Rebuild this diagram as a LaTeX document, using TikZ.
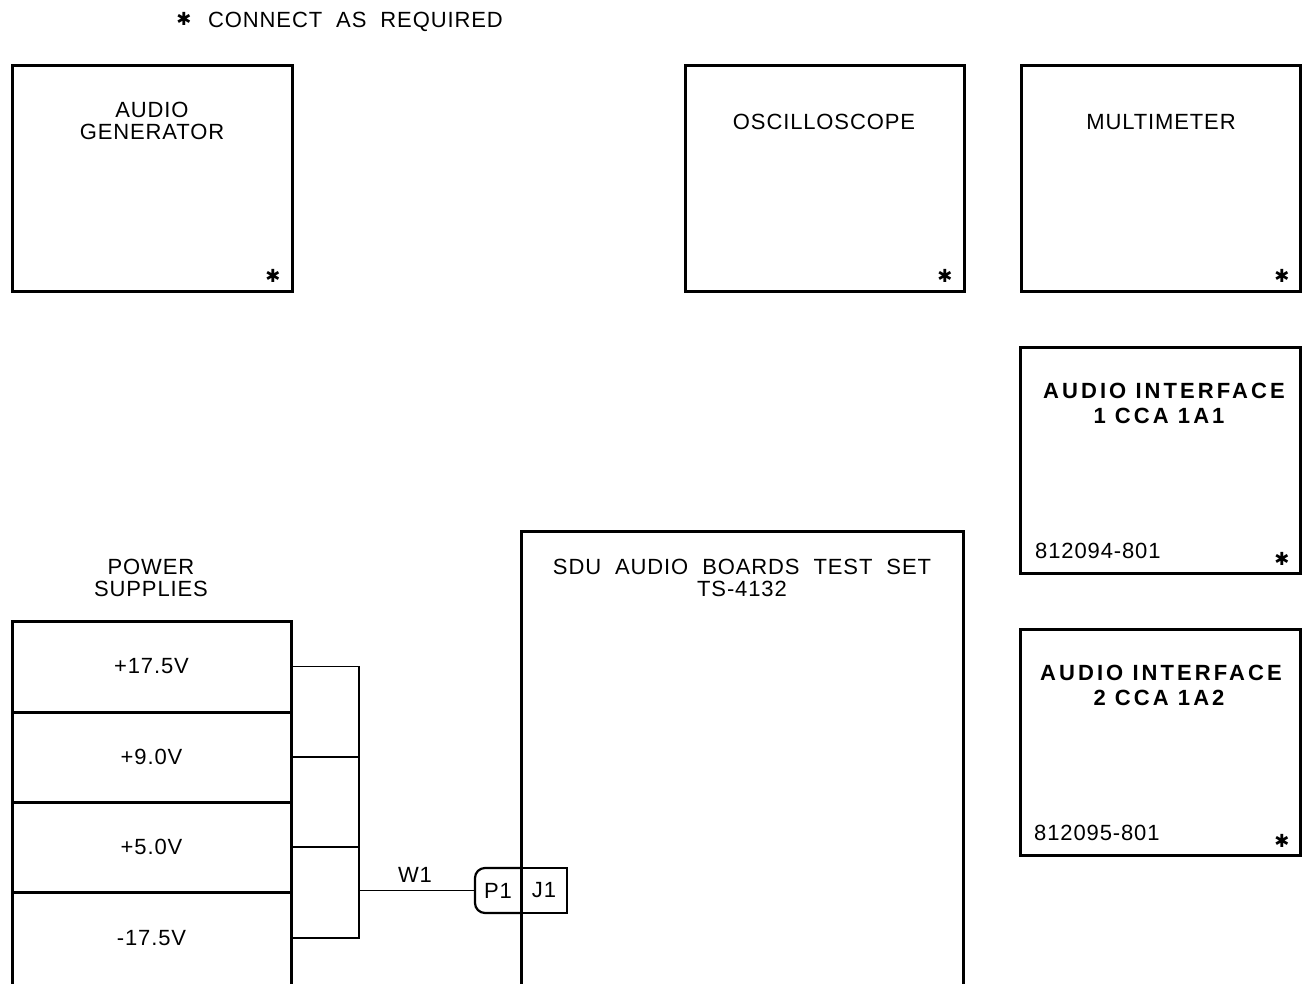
\documentclass[tikz,border=0pt]{standalone}
\usepackage{fontspec}
\setmainfont[LetterSpace=4,WordSpace=2.0]{Liberation Sans}
\newfontfamily\widefont[LetterSpace=14]{Liberation Sans}
\newfontfamily\symfont{DejaVu Sans}
\begin{document}
\begin{tikzpicture}[x=1pt,y=-1pt,
  openbox/.style={rectangle, inner sep=0pt, outer sep=0pt, anchor=north west},
  frame/.style={line width=3pt, line join=miter},
  lbl/.style={inner sep=0pt, text height=16pt, text depth=0pt, font=\fontsize{22}{22}\selectfont},
  blbl/.style={inner sep=0pt, text height=16pt, text depth=0pt, font=\widefont\bfseries\fontsize{22}{22}\selectfont},
  star/.style={inner sep=0pt, font=\symfont\bfseries\fontsize{18}{18}\selectfont},
  wire/.style={line width=1.6pt},
  conn/.style={line width=2.2pt}]
\useasboundingbox (0,0) rectangle (1306,983);
\clip (0,0) rectangle (1306,983);

% legend
\node[star] (legstar) at (184,19) {✱};
\node[lbl, anchor=west] (legend) at (208,19) {CONNECT AS REQUIRED};

% audio generator
\node[openbox, minimum width=280pt, minimum height=226pt] (agen) at (12,65) {};
\draw[frame] (agen.north west) rectangle (agen.south east);
\node[lbl] (agen1) at (152,109) {AUDIO};
\node[lbl] (agen2) at (152,131) {GENERATOR};
\node[star] (agenstar) at (273,276) {✱};

% oscilloscope
\node[openbox, minimum width=279pt, minimum height=226pt] (osc) at (685,65) {};
\draw[frame] (osc.north west) rectangle (osc.south east);
\node[lbl] (osct) at (824,121) {OSCILLOSCOPE};
\node[star] (oscstar) at (945,276) {✱};

% multimeter
\node[openbox, minimum width=279pt, minimum height=226pt] (mm) at (1021,65) {};
\draw[frame] (mm.north west) rectangle (mm.south east);
\node[lbl] (mmt) at (1161,121) {MULTIMETER};
\node[star] (mmstar) at (1282,276) {✱};

% audio interface 1
\node[openbox, minimum width=280pt, minimum height=226pt] (ai1) at (1020,347) {};
\draw[frame] (ai1.north west) rectangle (ai1.south east);
\node[blbl] (ai1a) at (1164,390) {AUDIO INTERFACE};
\node[blbl] (ai1b) at (1159,415) {1 CCA 1A1};
\node[lbl, anchor=west] (ai1c) at (1035,550) {812094-801};
\node[star] (ai1star) at (1282,559) {✱};

% audio interface 2
\node[openbox, minimum width=280pt, minimum height=226pt] (ai2) at (1020,629) {};
\draw[frame] (ai2.north west) rectangle (ai2.south east);
\node[blbl] (ai2a) at (1161,672) {AUDIO INTERFACE};
\node[blbl] (ai2b) at (1159,697) {2 CCA 1A2};
\node[lbl, anchor=west] (ai2c) at (1034,832) {812095-801};
\node[star] (ai2star) at (1282,841) {✱};

% power supplies
\node[lbl] (pst1) at (151,566) {POWER};
\node[lbl] (pst2) at (151,588) {SUPPLIES};
\node[openbox, minimum width=279pt, minimum height=91pt, font=\fontsize{22}{22}\selectfont] (ps1) at (12,621) {+17.5V};
\node[openbox, minimum width=279pt, minimum height=90pt, font=\fontsize{22}{22}\selectfont] (ps2) at (12,712) {+9.0V};
\node[openbox, minimum width=279pt, minimum height=90pt, font=\fontsize{22}{22}\selectfont] (ps3) at (12,802) {+5.0V};
\node[openbox, minimum width=279pt, minimum height=92pt, font=\fontsize{22}{22}\selectfont] (ps4) at (12,892) {-17.5V};
\draw[frame] (ps4.south west) -- (ps1.north west) -- (ps1.north east) -- (ps4.south east);
\draw[frame] (ps1.south west) -- (ps1.south east);
\draw[frame] (ps2.south west) -- (ps2.south east);
\draw[frame] (ps3.south west) -- (ps3.south east);

% test set
\node[openbox, minimum width=442pt, minimum height=460pt] (ts) at (521,531) {};
\draw[frame] (ts.south west) -- (ts.north west) -- (ts.north east) -- (ts.south east);
\node[lbl] (ts1) at (742,566) {SDU AUDIO BOARDS TEST SET};
\node[lbl] (ts2) at (742,588) {TS-4132};

% connector P1 / J1
\node[openbox, minimum width=46pt, minimum height=45pt, font=\fontsize{22}{22}\selectfont] (p1) at (475,868) {P1};
\draw[conn, rounded corners=10pt] (p1.north east) -- (p1.north west) -- (p1.south west) -- (p1.south east);
\node[openbox, minimum width=46pt, minimum height=45pt, font=\fontsize{22}{22}\selectfont] (j1) at (521,868) {J1};
\draw[conn] (j1.north west) -- (j1.north east) -- (j1.south east) -- (j1.south west);

% bus
\coordinate (busx) at (359,0);
\draw[wire] (ps1.east) -- (ps1.east -| busx) -- (ps4.east -| busx) -- (ps4.east);
\draw[wire] (ps2.east) -- (ps2.east -| busx);
\draw[wire] (ps3.east) -- (ps3.east -| busx);
\draw[wire] (p1.west -| busx) -- (p1.west);
\node[lbl] (w1) at (415,874) {W1};
\end{tikzpicture}
\end{document}
